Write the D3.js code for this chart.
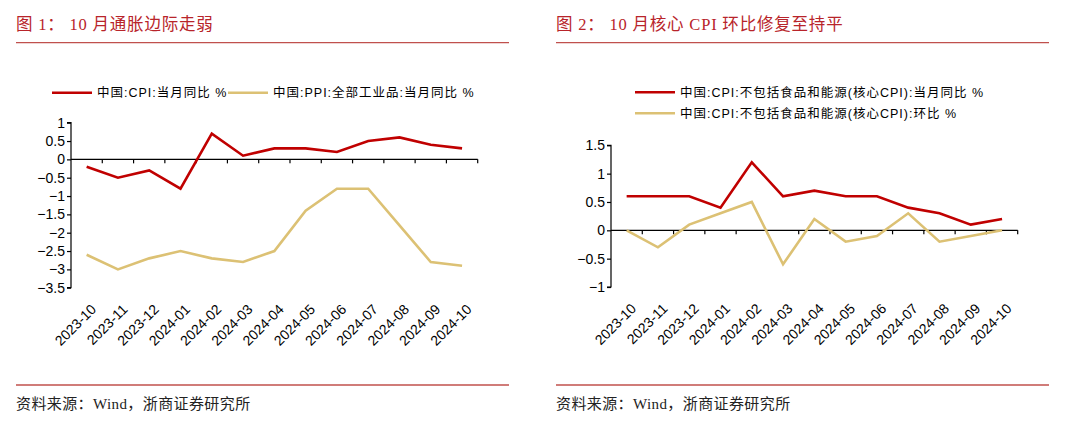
<!DOCTYPE html>
<html><head><meta charset="utf-8">
<script src="https://cdn.jsdelivr.net/npm/d3@7"></script>
<style>
html,body{margin:0;padding:0;background:#fff;}
svg{display:block;}
</style></head>
<body>
<svg id="c" width="1080" height="426"></svg>
<script>
const months = ["2023-10","2023-11","2023-12","2024-01","2024-02","2024-03","2024-04","2024-05","2024-06","2024-07","2024-08","2024-09","2024-10"];
const cpiYoy = [-0.2,-0.5,-0.3,-0.8,0.7,0.1,0.3,0.3,0.2,0.5,0.6,0.4,0.3];
const ppiYoy = [-2.6,-3.0,-2.7,-2.5,-2.7,-2.8,-2.5,-1.4,-0.8,-0.8,-1.8,-2.8,-2.9];
const coreYoy = [0.6,0.6,0.6,0.4,1.2,0.6,0.7,0.6,0.6,0.4,0.3,0.1,0.2];
const coreMom = [0.0,-0.3,0.1,0.3,0.5,-0.6,0.2,-0.2,-0.1,0.3,-0.2,-0.1,0.0];
const leftTicks = [1,0.5,0,-0.5,-1,-1.5,-2,-2.5,-3,-3.5];
const rightTicks = [1.5,1,0.5,0,-0.5,-1];
const titles = ["图 1：  10 月通胀边际走弱","图 2：  10 月核心 CPI 环比修复至持平"];
const sourceText = "资料来源：Wind，浙商证券研究所";
const leftLegend = ["中国:CPI:当月同比 %","中国:PPI:全部工业品:当月同比 %"];
const rightLegend = ["中国:CPI:不包括食品和能源(核心CPI):当月同比 %","中国:CPI:不包括食品和能源(核心CPI):环比 %"];

const RED = "#c00000", GOLD = "#dcc174", TITLE = "#b8242a", RULE = "#c0504d";
const svg = d3.select("#c");
const serif = "'Liberation Serif','DejaVu Serif','Noto Sans CJK SC',serif";
const sans = "'Liberation Sans',Arial,'Noto Sans CJK SC',sans-serif";

function panel(ox, cfg){
  const g = svg.append("g").attr("transform",`translate(${ox},0)`);
  // title
  g.append("text").attr("x",16).attr("y",30).attr("fill",TITLE)
    .attr("font-family",serif).attr("font-size",16.5).attr("letter-spacing",0.8).text(cfg.title);
  g.append("line").attr("x1",16).attr("x2",509).attr("y1",42.7).attr("y2",42.7)
    .attr("stroke",RULE).attr("stroke-width",1.3);
  g.append("line").attr("x1",16).attr("x2",509).attr("y1",385).attr("y2",385)
    .attr("stroke",RULE).attr("stroke-width",1.3);
  g.append("text").attr("x",16).attr("y",409).attr("fill","#222")
    .attr("font-family",serif).attr("font-size",15).attr("letter-spacing",0.4).text(sourceText);

  const x = d3.scaleBand().domain(months).range([71,477.7]);
  const y = d3.scaleLinear().domain(cfg.domain).range(cfg.yrange);
  const cx = d => x(d)+x.bandwidth()/2;

  // y axis
  const ya = d3.axisLeft(y).tickValues(cfg.ticks).tickSize(4).tickFormat(d3.format("~g"));
  const yg = g.append("g").attr("transform","translate(71,0)").call(ya);
  yg.select(".domain").attr("stroke","#000").attr("stroke-width",1.2).attr("d",`M-4,${y(cfg.domain[1])}H0V${y(cfg.domain[0])}H-4`);
  yg.selectAll(".tick line").attr("stroke","#000").attr("stroke-width",1.2);
  yg.selectAll(".tick text").attr("font-family",sans).attr("font-size",14).attr("fill","#000").attr("x",-6);

  // x axis at zero
  const y0 = y(0);
  g.append("line").attr("x1",71).attr("x2",477.7).attr("y1",y0).attr("y2",y0)
    .attr("stroke","#000").attr("stroke-width",1.2);
  g.selectAll(".xt").data(months).enter().append("line")
    .attr("x1",d=>x(d)+x.bandwidth()).attr("x2",d=>x(d)+x.bandwidth())
    .attr("y1",y0).attr("y2",y0+4).attr("stroke","#000").attr("stroke-width",1.2);
  const yb = y(cfg.domain[0]);
  g.selectAll(".xl").data(months).enter().append("text")
    .attr("transform",d=>`translate(${cx(d)+7},${yb+19}) rotate(-45)`)
    .attr("text-anchor","end").attr("dy","0.35em")
    .attr("font-family",sans).attr("font-size",14).attr("fill","#000").text(d=>d);

  // lines
  const line = d3.line().x((d,i)=>cx(months[i])).y(d=>y(d));
  cfg.series.forEach(s=>{
    g.append("path").datum(s.values).attr("d",line).attr("fill","none")
      .attr("stroke",s.color).attr("stroke-width",2.6).attr("stroke-linejoin","miter");
  });
  // legend
  cfg.legend.forEach(l=>{
    g.append("line").attr("x1",l.x).attr("x2",l.x+40).attr("y1",l.y).attr("y2",l.y)
      .attr("stroke",l.color).attr("stroke-width",2.6);
    g.append("text").attr("x",l.x+45).attr("y",l.y).attr("dy","0.36em")
      .attr("font-family",sans).attr("font-size",12.5).attr("letter-spacing",1).attr("fill","#000").text(l.text);
  });
}

panel(0,{
  title:titles[0], domain:[-3.5,1], yrange:[287.7,122.7], ticks:leftTicks,
  series:[{values:cpiYoy,color:RED},{values:ppiYoy,color:GOLD}],
  legend:[{x:52,y:92.7,color:RED,text:leftLegend[0]},{x:228,y:92.7,color:GOLD,text:leftLegend[1]}]
});
panel(540,{
  title:titles[1], domain:[-1,1.5], yrange:[287,145.3], ticks:rightTicks,
  series:[{values:coreYoy,color:RED},{values:coreMom,color:GOLD}],
  legend:[{x:95,y:92.3,color:RED,text:rightLegend[0]},{x:95,y:113.3,color:GOLD,text:rightLegend[1]}]
});
</script>
</body></html>
